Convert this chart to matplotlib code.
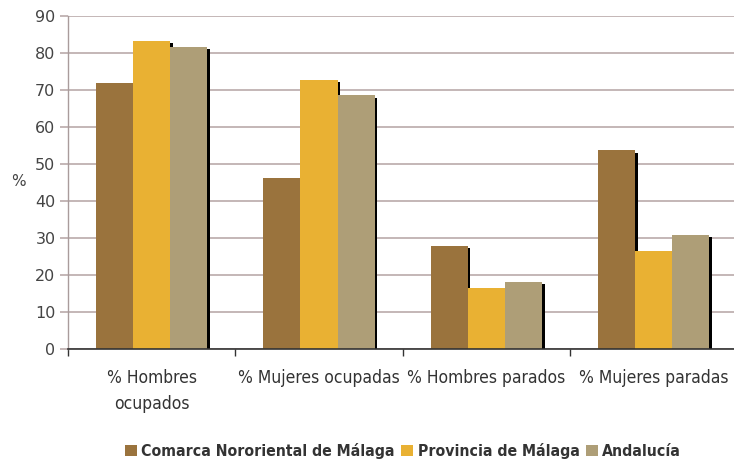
import matplotlib.pyplot as plt
import numpy as np
from matplotlib import font_manager

categories = ['% Hombres\nocupados', '% Mujeres ocupadas', '% Hombres parados', '% Mujeres paradas']
series_names = ['Comarca Nororiental de Málaga', 'Provincia de Málaga', 'Andalucía']
comarca = [71.9, 46.2, 27.9, 53.8]
provincia = [83.4, 72.8, 16.4, 26.6]
andalucia = [81.7, 68.7, 18.2, 30.9]
colors = ['#9a733d', '#e9b133', '#ae9e77']

# condensed face for the category and legend labels
narrow_fp = font_manager.FontProperties(family='DejaVu Sans', stretch='condensed', size=12.5)
narrow_bold = font_manager.FontProperties(family='DejaVu Sans', stretch='condensed', weight='bold', size=11.3)

fig = plt.figure(figsize=(7.34, 4.63), dpi=100)
ax = fig.add_axes([0.0926, 0.246, 0.912, 0.719])

x = np.arange(len(categories))
w = 0.222
shift = 0.016   # drop shadow offset (category units)
drop = 0.7      # drop shadow offset (data units)

for i, (vals, col, name) in enumerate(zip([comarca, provincia, andalucia], colors, series_names)):
    xs = x + (i - 1) * w
    # black shadow behind every bar, covered by neighbours
    ax.bar(xs + shift, np.array(vals) - drop, width=w, color='black', zorder=2)
    ax.bar(xs, vals, width=w, color=col, zorder=3, label=name)

ax.set_xlim(-0.5, 3.5)
ax.set_ylim(0, 90)
ax.set_yticks(range(0, 91, 10))
ax.yaxis.grid(True, color='#bfb1b1', lw=1.3, zorder=1)
ax.set_axisbelow(True)

for s in ['top', 'right']:
    ax.spines[s].set_visible(False)
ax.spines['left'].set_color('#a99c9c')
ax.spines['left'].set_linewidth(1.0)
ax.spines['bottom'].set_color('#333333')
ax.spines['bottom'].set_linewidth(1.2)
ax.spines['bottom'].set_zorder(4)

ax.tick_params(axis='y', length=6, color='#bfb1b1', width=1.3, labelsize=11.5, labelcolor='#444444', pad=3)
ax.set_xticks(x)
ax.set_xticklabels(categories, fontproperties=narrow_fp, color='#333333')
ax.tick_params(axis='x', length=0, pad=14)
ax.set_xticks(np.arange(-0.5, 4.0, 1.0), minor=True)
ax.tick_params(axis='x', which='minor', length=5, color='#333333', width=1.0)
for lbl in ax.get_xticklabels():
    lbl.set_linespacing(1.6)
    lbl.set_verticalalignment('top')

fig.text(18 / 734, 1 - 182 / 463, '%', fontsize=11, color='#444444', ha='center', va='center')

leg = fig.legend(loc='center', bbox_to_anchor=(403 / 734, 1 - 451 / 463), ncol=3, frameon=False,
                 handlelength=0.75, handleheight=0.75, handletextpad=0.3, columnspacing=0.4,
                 prop=narrow_bold)
for t in leg.get_texts():
    t.set_color('#333333')

fig.savefig('out.png', dpi=100)
